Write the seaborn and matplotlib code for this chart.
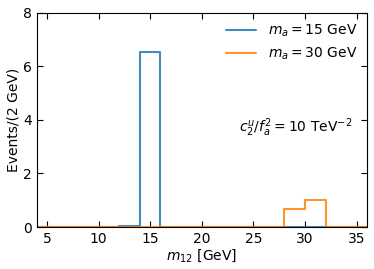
import matplotlib
matplotlib.use('Agg')
import matplotlib.pyplot as plt
from matplotlib.lines import Line2D
import seaborn as sns
import numpy as np
import pandas as pd

sns.set_style("ticks")
plt.rcParams['font.family'] = ['DejaVu Sans']
plt.rcParams['font.size'] = 10
plt.rcParams['mathtext.fontset'] = 'dejavusans'
plt.rcParams['text.color'] = 'black'
plt.rcParams['axes.labelcolor'] = 'black'
plt.rcParams['xtick.color'] = 'black'
plt.rcParams['ytick.color'] = 'black'
plt.rcParams['axes.edgecolor'] = 'black'

# 2 GeV bins from 4 to 36
bin_edges = [4, 6, 8, 10, 12, 14, 16, 18, 20, 22, 24, 26, 28, 30, 32, 34, 36]
bin_centers = [5, 7, 9, 11, 13, 15, 17, 19, 21, 23, 25, 27, 29, 31, 33, 35]
events_ma15 = [0, 0, 0, 0, 0.03, 6.55, 0, 0.02, 0, 0, 0, 0, 0, 0.02, 0, 0]
events_ma30 = [0, 0, 0, 0, 0, 0, 0, 0, 0, 0, 0, 0, 0.67, 1.0, 0, 0]

labels = [r'$m_a = 15$ GeV', r'$m_a = 30$ GeV']
colors = ['#1f77b4', '#ff7f0e']

df = pd.DataFrame({
    'm12': bin_centers * 2,
    'w': events_ma15 + events_ma30,
    'sample': [labels[0]] * len(bin_centers) + [labels[1]] * len(bin_centers),
})

fig, ax = plt.subplots(figsize=(3.74, 2.69), dpi=100)

for lab, col in zip(labels, colors):
    sub = df[df['sample'] == lab]
    sns.histplot(x=sub['m12'], weights=sub['w'], bins=bin_edges,
                 element='step', fill=False, color=col, linewidth=1.5,
                 alpha=0.85, ax=ax)

ax.set_xlim(4, 36)
ax.set_ylim(0, 8)
ax.set_xticks([5, 10, 15, 20, 25, 30, 35])
ax.set_yticks([0, 2, 4, 6, 8])
ax.tick_params(direction='in', top=True, right=True, length=4, labelsize=10)
ax.set_xlabel(r'$m_{12}$ [GeV]', fontsize=10, labelpad=1)
ax.set_ylabel('Events/(2 GeV)', fontsize=10, labelpad=2)
for s in ax.spines.values():
    s.set_linewidth(0.8)

handles = [Line2D([0], [0], color=c, lw=1.5, alpha=0.85) for c in colors]
ax.legend(handles, labels, loc='upper right', frameon=False, fontsize=10,
          handlelength=2.2, borderaxespad=0.3)
ax.text(0.955, 0.465, r'$c_2^u/f_a^2 = 10\ \mathrm{TeV}^{-2}$', transform=ax.transAxes,
        ha='right', va='center', fontsize=10)

plt.subplots_adjust(left=0.098, right=0.981, top=0.953, bottom=0.156)
plt.savefig('out.png', dpi=100)
plt.close()
